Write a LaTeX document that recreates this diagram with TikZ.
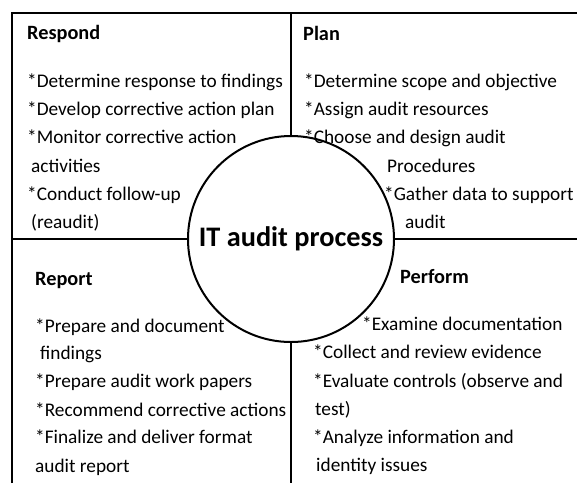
\documentclass[tikz,border=0pt]{standalone}
\usepackage{fontspec}
\setmainfont{Carlito}
\usepackage{tikz}

\tikzset{
	line/.style={line width=2.2pt},
	item/.style={anchor=base west, inner sep=0pt, font=\fontsize{19.3}{23}\selectfont},
	head/.style={anchor=base west, inner sep=0pt, font=\fontsize{20.3}{24}\selectfont\bfseries},
	hub/.style={circle, draw, line width=2pt, minimum size=206pt, inner sep=0pt, fill=white, font=\fontsize{28.3}{32}\selectfont\bfseries}
}

\begin{document}
\begin{tikzpicture}[x=1pt,y=-1pt]

	\useasboundingbox (0,0) rectangle (577,483);

	\coordinate (tl) at (12,13);
	\coordinate (tr) at (577,13);
	\coordinate (bl) at (12,483);
	\coordinate (tm) at (291,13);
	\coordinate (bm) at (291,483);
	\coordinate (ml) at (12,239);
	\coordinate (mr) at (577,239);

	\draw[line] (bl) -- (tl) -- (tr);
	\draw[line] (tm) -- (bm);
	\draw[line] (ml) -- (mr);

	\node[hub] (core) at (291,239) {IT audit process};

	\node[head] (respond) at (27,39) {Respond};
	\node[item] (rsp1) at (27,87) {*Determine response to findings};
	\node[item] (rsp2) at (27,115) {*Develop corrective action plan};
	\node[item] (rsp3) at (27,143) {*Monitor corrective action};
	\node[item] (rsp4) at (31,172) {activities};
	\node[item] (rsp5) at (27,200) {*Conduct follow-up};
	\node[item] (rsp6) at (31,228) {(reaudit)};

	\node[head] (plan) at (303,40) {Plan};
	\node[item] (pln1) at (304,87) {*Determine scope and objective};
	\node[item] (pln2) at (304,115) {*Assign audit resources};
	\node[item] (pln3) at (304,143) {*Choose and design audit};
	\node[item] (pln4) at (387,172) {Procedures};
	\node[item] (pln5) at (384,200) {*Gather data to support};
	\node[item] (pln6) at (405,228) {audit};

	\node[head] (report) at (35,285) {Report};
	\node[item] (rpt1) at (35,332) {*Prepare and document};
	\node[item] (rpt2) at (40,359) {findings};
	\node[item] (rpt3) at (35,387) {*Prepare audit work papers};
	\node[item] (rpt4) at (35,416) {*Recommend corrective actions};
	\node[item] (rpt5) at (35,443) {*Finalize and deliver format};
	\node[item] (rpt6) at (35,472) {audit report};

	\node[head] (perform) at (400,283) {Perform};
	\node[item] (prf1) at (362,330) {*Examine documentation};
	\node[item] (prf2) at (313,358) {*Collect and review evidence};
	\node[item] (prf3) at (313,387) {*Evaluate controls (observe and};
	\node[item] (prf4) at (315,415) {test)};
	\node[item] (prf5) at (313,443) {*Analyze information and};
	\node[item] (prf6) at (316,471) {identity issues};

\end{tikzpicture}
\end{document}
